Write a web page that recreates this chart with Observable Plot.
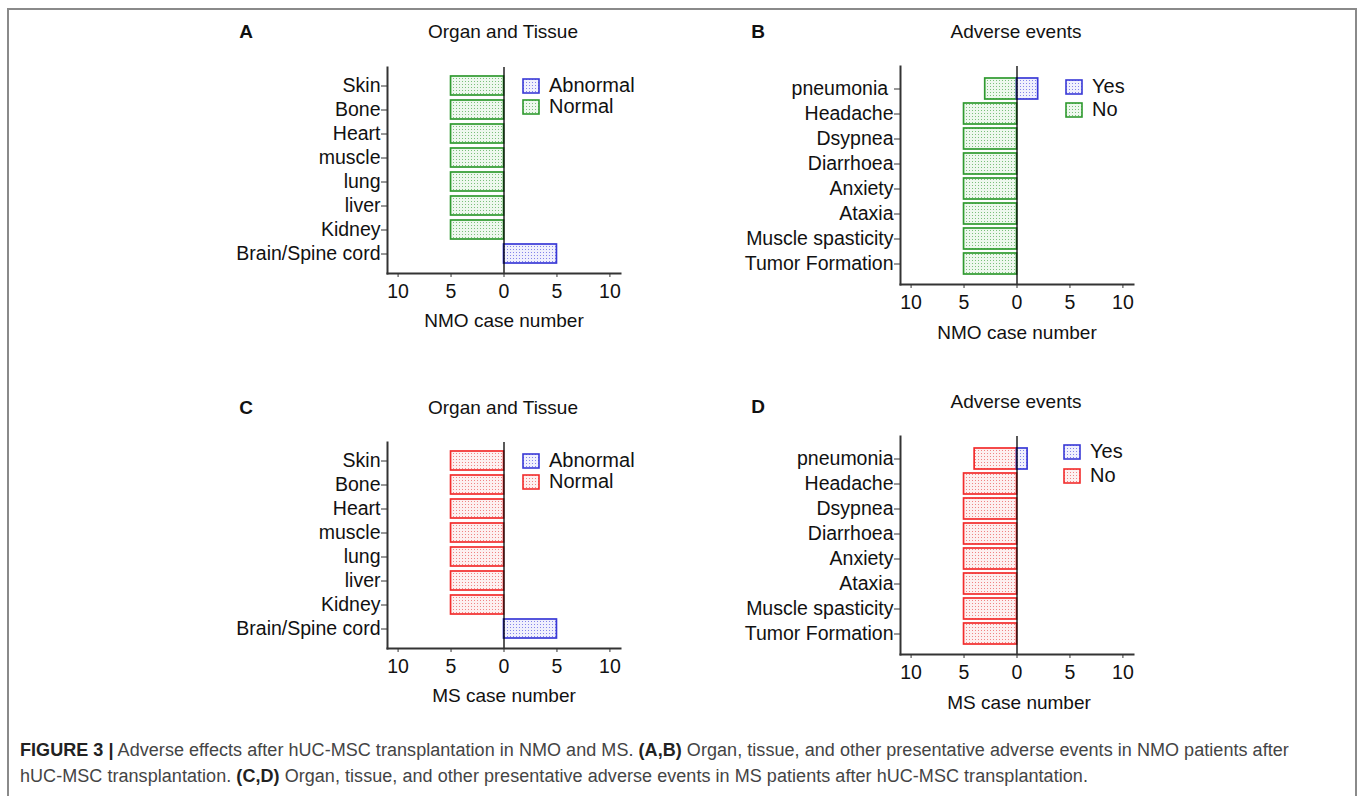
<!DOCTYPE html>
<html>
<head>
<meta charset="utf-8">
<script src="https://cdn.jsdelivr.net/npm/d3@7"></script>
<script src="https://cdn.jsdelivr.net/npm/@observablehq/plot@0.6"></script>
<style>
  html, body { margin: 0; padding: 0; background: #fff; overflow: hidden; }
  #fig { position: relative; width: 1357px; height: 796px; font-family: "Liberation Sans", Arial, sans-serif; color: #111; }
  #border { position: absolute; left: 7px; top: 8px; width: 1346px; height: 900px; border: 2px solid #8a8a8a; border-bottom: none; }
  .abs { position: absolute; white-space: nowrap; }
  .c { transform: translate(-50%, -50%); }
  .lbl { font-size: 19px; }
  .letter { font-size: 19px; font-weight: bold; }
  #caption { position: absolute; left: 20px; top: 737px; font-size: 18px; line-height: 26px; color: #444; white-space: nowrap; letter-spacing: 0.05px; }
  #caption b { color: #222; }
</style>
</head>
<body>
<svg width="0" height="0" style="position:absolute">
  <defs>
    <pattern id="pat-green" width="3" height="3" patternUnits="userSpaceOnUse">
      <rect width="3" height="3" fill="#eef8ee"/>
      <rect x="1" y="1" width="1" height="1" fill="#7cc07c"/>
    </pattern>
    <pattern id="pat-red" width="3" height="3" patternUnits="userSpaceOnUse">
      <rect width="3" height="3" fill="#fdf0f0"/>
      <rect x="1" y="1" width="1" height="1" fill="#f08484"/>
    </pattern>
    <pattern id="pat-blue" width="3" height="3" patternUnits="userSpaceOnUse">
      <rect width="3" height="3" fill="#f0f0fd"/>
      <rect x="1" y="1" width="1" height="1" fill="#8484ea"/>
    </pattern>
  </defs>
</svg>
<div id="fig">
  <div id="border"></div>
  <div id="caption"><b>FIGURE 3 |</b> Adverse effects after hUC-MSC transplantation in NMO and MS. <b>(A,B)</b> Organ, tissue, and other presentative adverse events in NMO patients after<br>hUC-MSC transplantation. <b>(C,D)</b> Organ, tissue, and other presentative adverse events in MS patients after hUC-MSC transplantation.</div>
</div>
<script>
// ---- data ----
const organs = ["Skin", "Bone", "Heart", "muscle", "lung", "liver", "Kidney", "Brain/Spine cord"];
const events = ["pneumonia", "Headache", "Dsypnea", "Diarrhoea", "Anxiety", "Ataxia", "Muscle spasticity", "Tumor Formation"];

const nmoOrganNormal   = [5, 5, 5, 5, 5, 5, 5, 0];
const nmoOrganAbnormal = [0, 0, 0, 0, 0, 0, 0, 5];
const msOrganNormal    = [5, 5, 5, 5, 5, 5, 5, 0];
const msOrganAbnormal  = [0, 0, 0, 0, 0, 0, 0, 5];

const nmoEventNo  = [3, 5, 5, 5, 5, 5, 5, 5];
const nmoEventYes = [2, 0, 0, 0, 0, 0, 0, 0];
const msEventNo   = [4, 5, 5, 5, 5, 5, 5, 5];
const msEventYes  = [1, 0, 0, 0, 0, 0, 0, 0];

const xTicks = [-10, -5, 0, 5, 10];

const GREEN = "#2f9a2f", RED = "#f22c2c", BLUE = "#3a3ad6";

const fig = document.getElementById("fig");

function addText(txt, cls, x, y) {
  const d = document.createElement("div");
  d.className = "abs c " + cls;
  d.style.left = x + "px";
  d.style.top = y + "px";
  d.textContent = txt;
  fig.appendChild(d);
}

function addLegend(x, y0, y1, items) {
  items.forEach((it, i) => {
    const row = document.createElement("div");
    row.className = "abs";
    row.style.left = x + "px";
    row.style.top = ([y0, y1][i] - 12) + "px";
    row.style.display = "flex";
    row.style.alignItems = "center";
    row.style.fontSize = "20px";
    row.innerHTML = `<svg width="18" height="16" style="margin-right:9px"><rect x="1" y="1" width="16" height="14" fill="url(#${it.pat})" stroke="${it.color}" stroke-width="1.6"/></svg><span>${it.label}</span>`;
    fig.appendChild(row);
  });
}

function panel(cfg) {
  const mL = 190, mR = 20, mT = 20, mB = 45;
  const w = (cfg.frameRight - cfg.frameLeft) + mL + mR;
  const h = (cfg.frameBottom - cfg.frameTop) + mT + mB;
  const neg = cfg.cats.map((c, i) => ({cat: c, v: -cfg.neg[i]})).filter(d => d.v !== 0);
  const pos = cfg.cats.map((c, i) => ({cat: c, v: cfg.pos[i]})).filter(d => d.v !== 0);
  const chart = Plot.plot({
    width: w, height: h,
    marginLeft: mL, marginRight: mR, marginTop: mT, marginBottom: mB,
    style: {fontFamily: "'Liberation Sans', Arial, sans-serif", fontSize: "19.5px", color: "#111", background: "transparent", overflow: "visible"},
    x: {domain: [-11, 11]},
    y: {domain: cfg.cats, paddingInner: cfg.pad, paddingOuter: cfg.pad / 2,
        insetTop: cfg.bandTop - cfg.frameTop, insetBottom: cfg.frameBottom - cfg.bandBottom},
    marks: [
      Plot.barX(neg, {x1: 0, x2: "v", y: "cat", fill: `url(#${cfg.negPat})`, stroke: cfg.negColor, strokeWidth: 1.7}),
      Plot.barX(pos, {x1: 0, x2: "v", y: "cat", fill: "url(#pat-blue)", stroke: BLUE, strokeWidth: 1.7}),
      Plot.ruleX([0], {stroke: "#000", strokeWidth: 1.3}),
      Plot.axisX({ticks: xTicks, tickFormat: d => Math.abs(d), tickSize: 4, tickPadding: 7, label: null, stroke: "#333"}),
      Plot.axisY({tickSize: 6, tickPadding: 1, label: null, stroke: "#333",
                  tickFormat: d => d === "pneumonia" && cfg.pnSpace ? "pneumonia\u00a0" : d}),
      Plot.frame({anchor: "left", stroke: "#333", strokeWidth: 2}),
      Plot.frame({anchor: "bottom", stroke: "#333", strokeWidth: 2})
    ]
  });
  chart.style.position = "absolute";
  chart.style.left = (cfg.frameLeft - mL) + "px";
  chart.style.top = (cfg.frameTop - mT) + "px";
  fig.appendChild(chart);
}

// Panel A
panel({cats: organs, neg: nmoOrganNormal, pos: nmoOrganAbnormal, negPat: "pat-green", negColor: GREEN,
       frameLeft: 387, frameRight: 620, frameTop: 67, frameBottom: 273, bandTop: 74, bandBottom: 266, pad: 0.19});
addText("A", "letter", 246, 32);
addText("Organ and Tissue", "lbl", 503, 32);
addText("NMO case number", "lbl", 504, 321);
addLegend(522, 86, 107, [{label: "Abnormal", pat: "pat-blue", color: BLUE}, {label: "Normal", pat: "pat-green", color: GREEN}]);

// Panel B
panel({cats: events, neg: nmoEventNo, pos: nmoEventYes, negPat: "pat-green", negColor: GREEN, pnSpace: true,
       frameLeft: 900, frameRight: 1133, frameTop: 66, frameBottom: 284, bandTop: 74, bandBottom: 277, pad: 0.18});
addText("B", "letter", 758, 32);
addText("Adverse events", "lbl", 1016, 32);
addText("NMO case number", "lbl", 1017, 333);
addLegend(1065, 87, 110, [{label: "Yes", pat: "pat-blue", color: BLUE}, {label: "No", pat: "pat-green", color: GREEN}]);

// Panel C
panel({cats: organs, neg: msOrganNormal, pos: msOrganAbnormal, negPat: "pat-red", negColor: RED,
       frameLeft: 387, frameRight: 620, frameTop: 442, frameBottom: 648, bandTop: 449, bandBottom: 641, pad: 0.19});
addText("C", "letter", 246, 408);
addText("Organ and Tissue", "lbl", 503, 408);
addText("MS case number", "lbl", 504, 696);
addLegend(522, 461, 482, [{label: "Abnormal", pat: "pat-blue", color: BLUE}, {label: "Normal", pat: "pat-red", color: RED}]);

// Panel D
panel({cats: events, neg: msEventNo, pos: msEventYes, negPat: "pat-red", negColor: RED,
       frameLeft: 900, frameRight: 1133, frameTop: 436, frameBottom: 654, bandTop: 444, bandBottom: 647, pad: 0.18});
addText("D", "letter", 758, 407);
addText("Adverse events", "lbl", 1016, 402);
addText("MS case number", "lbl", 1019, 703);
addLegend(1063, 452, 476, [{label: "Yes", pat: "pat-blue", color: BLUE}, {label: "No", pat: "pat-red", color: RED}]);
</script>
</body>
</html>
